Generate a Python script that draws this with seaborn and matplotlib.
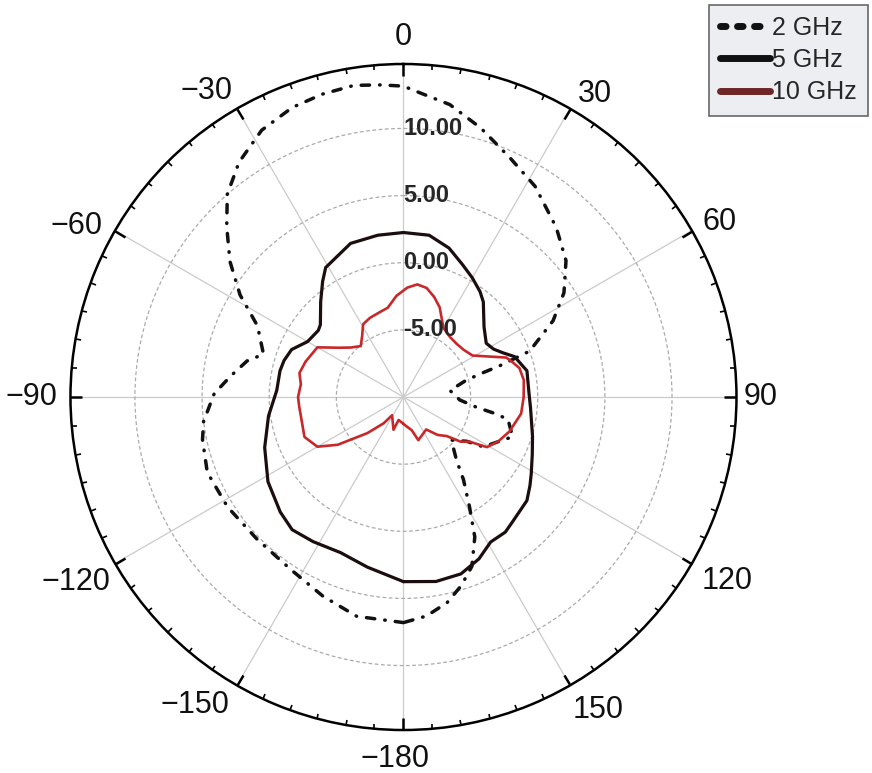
import numpy as np
import pandas as pd
import seaborn as sns
import matplotlib.pyplot as plt
from matplotlib.lines import Line2D

# angle (deg) / gain (dB)
ang_2ghz = [-180, -168, -158, -147, -134, -122, -111, -102, -97, -89,
            -83, -77, -73, -64, -58, -52, -46, -41, -35, -28,
            -21, -15, -9, -4, 0, 3, 9, 16, 24, 32,
            42, 50, 57, 63, 70, 72, 73, 75, 82, 93,
            98, 100, 102, 110, 122, 125, 132, 140, 144, 149,
            153, 158, 163, 168, 174, 180]
gain_2ghz = [6.8, 6.7, 6.0, 5.35, 5.2, 5.45, 5.65, 5.3, 5.0, 4.1,
             2.95, 1.95, 0.9, 2.1, 4.35, 6.4, 8.3, 10.0, 11.35, 12.5,
             13.1, 13.35, 13.5, 13.3, 13.15, 12.7, 12.05, 10.85, 9.5, 8.5,
             7.0, 5.8, 4.25, 2.5, 0.0, -2.45, -3.8, -5.15, -6.5, -5.8,
             -4.5, -3.25, -2.05, -1.35, -3.0, -4.25, -5.2, -3.85, -2.4, -0.45,
             1.7, 3.6, 4.7, 5.65, 6.4, 6.8]

ang_5ghz = [-180, -168, -158, -148, -140, -133, -122, -110, -98, -87,
            -78, -73, -67, -60, -52, -49, -41, -35, -31, -19,
            -9, 0, 9, 17, 24, 30, 36, 40, 49, 57,
            62, 66, 70, 78, 88, 95, 107, 114, 121, 125,
            130, 139, 143, 149, 155, 162, 170, 180]
gain_5ghz = [3.75, 2.95, 2.5, 2.7, 2.9, 2.55, 1.9, 1.0, 0.15, -0.55,
             -0.6, -0.7, -0.95, -1.75, -1.95, -1.8, -0.6, 0.5, 1.25, 2.1,
             2.2, 2.25, 2.2, 1.6, 0.8, 0.25, -0.3, -0.75, -2.05, -2.65,
             -2.4, -1.9, -1.2, -0.6, -0.65, -0.5, 0.05, 0.5, 1.1, 1.5,
             2.0, 2.35, 2.6, 2.6, 3.3, 3.85, 3.95, 3.75]

ang_10ghz = [-180, -168, -163, -148, -143, -135, -126, -120, -112, -95,
             -90, -83, -77, -70, -60, -53, -47, -40, -34, -29,
             -23, -16, -10, -4, 2, 7, 12, 17, 22, 30,
             38, 45, 52, 59, 64, 69, 72, 76, 82, 90,
             98, 108, 115, 121, 124, 128, 132, 138, 145, 152,
             161, 166, 174, 180]
gain_10ghz = [-8.0, -8.25, -7.45, -8.4, -7.55, -6.2, -3.95, -2.6, -2.05, -2.2,
              -2.15, -2.3, -2.05, -2.25, -2.6, -3.9, -4.6, -5.05, -4.5, -3.8,
              -3.6, -3.45, -3.25, -2.45, -1.85, -1.55, -1.7, -2.2, -2.8, -4.05,
              -4.35, -4.4, -4.3, -4.0, -3.1, -1.8, -1.5, -1.1, -0.95, -1.05,
              -1.15, -1.7, -2.2, -2.75, -4.05, -4.6, -5.65, -6.2, -7.05, -6.9,
              -6.6, -7.45, -7.8, -8.0]

theta_ticks = [0, 30, 60, 90, 120, 150, 180, 210, 240, 270, 300, 330]
theta_labels = ['0', '30', '60', '90', '120', '150',
                '\u2212180', '\u2212150', '\u2212120', '\u221290', '\u221260', '\u221230']
r_ticks = [-5, 0, 5, 10]
r_labels = ['-5.00', '0.00', '5.00', '10.00']

# where each angle label sits against the rim: ha, va, dx, dy (pixels)
label_place = [('center', 'baseline', 0, 19), ('left', 'baseline', 8, 7),
               ('left', 'baseline', 11, 1), ('left', 'center', 7, 0),
               ('left', 'top', 10, -2), ('left', 'top', 3, -10),
               ('center', 'top', -8, -14), ('right', 'top', -8, -5),
               ('right', 'top', -5, -3), ('right', 'center', -13, 0),
               ('right', 'baseline', -13, -3), ('right', 'baseline', -4, 10)]

sns.set_style("white")
plt.rcParams['font.family'] = ['Liberation Sans', 'DejaVu Sans']

RMAX = 14.8
fig = plt.figure(figsize=(8.72, 7.73), dpi=100)
ax = fig.add_axes([0.0808, 0.0556, 0.7638, 0.8616], projection='polar')
ax.set_theta_zero_location('N')
ax.set_theta_direction(-1)


def frame(ang, gain, name):
    return pd.DataFrame({'theta': np.deg2rad(ang), 'gain': gain, 'freq': name})


d2 = frame(ang_2ghz, gain_2ghz, '2 GHz')
d5 = frame(ang_5ghz, gain_5ghz, '5 GHz')
d10 = frame(ang_10ghz, gain_10ghz, '10 GHz')

sns.lineplot(data=d2, x='theta', y='gain', ax=ax, sort=False, estimator=None,
             color='#111111', lw=2.5, linestyle=(0, (2.4, 2.9, 0.15, 2.9)),
             dash_capstyle='round', legend=False)
sns.lineplot(data=d5, x='theta', y='gain', ax=ax, sort=False, estimator=None,
             color='#1c0d0f', lw=2.3, legend=False)
sns.lineplot(data=d10, x='theta', y='gain', ax=ax, sort=False, estimator=None,
             color='#c8282a', lw=1.9, legend=False)

ax.set_xlabel('')
ax.set_ylabel('')
ax.set_ylim(-10, RMAX)
ax.set_yticks(r_ticks)
ax.set_yticklabels([])
ax.set_xticks(np.deg2rad(theta_ticks))
ax.set_xticklabels([])
ax.set_xticks(np.deg2rad(np.arange(0, 360, 5)), minor=True)
# tick2 sits on the outer rim of a polar axes
ax.tick_params(axis='x', which='major', bottom=False, top=True, direction='in',
               length=8.5, width=1.8, color='black', labelbottom=False, labeltop=False)
ax.tick_params(axis='x', which='minor', bottom=False, top=True, direction='in',
               length=3.8, width=1.2, color='black')
ax.tick_params(axis='y', length=0)
ax.xaxis.grid(True, color='#cbcbcb', lw=0.9, linestyle='-')
ax.yaxis.grid(True, color='#ababab', lw=0.9, linestyle=(0, (3, 2)))
ax.spines['polar'].set_linewidth(1.8)
ax.spines['polar'].set_color('black')

for a, lab, (ha, va, dx, dy) in zip(theta_ticks, theta_labels, label_place):
    ax.annotate(lab, xy=(np.deg2rad(a), RMAX), xytext=(dx, dy),
                textcoords='offset pixels', ha=ha, va=va, fontsize=22,
                color='#111111', annotation_clip=False)

for r, lab in zip(r_ticks, r_labels):
    ax.text(0, r, lab, ha='left', va='center', fontsize=17, fontweight='bold',
            color='#262626')

handles = [
    Line2D([], [], color='#111111', lw=5, linestyle=(0, (0.8, 1.65)), dash_capstyle='round'),
    Line2D([], [], color='#111111', lw=5, solid_capstyle='round'),
    Line2D([], [], color='#6e2626', lw=5, solid_capstyle='round'),
]
leg = fig.legend(handles, ['2 GHz', '5 GHz', '10 GHz'], loc='upper right',
                 bbox_to_anchor=(0.995, 0.994), fontsize=18, frameon=True,
                 fancybox=False, handlelength=2.0, handletextpad=0.05,
                 labelspacing=0.33, borderpad=0.45, borderaxespad=0)
leg.get_frame().set_facecolor('#e8eaee')
leg.get_frame().set_edgecolor('#444444')
leg.get_frame().set_linewidth(1.2)

fig.savefig('out.png', dpi=100)
